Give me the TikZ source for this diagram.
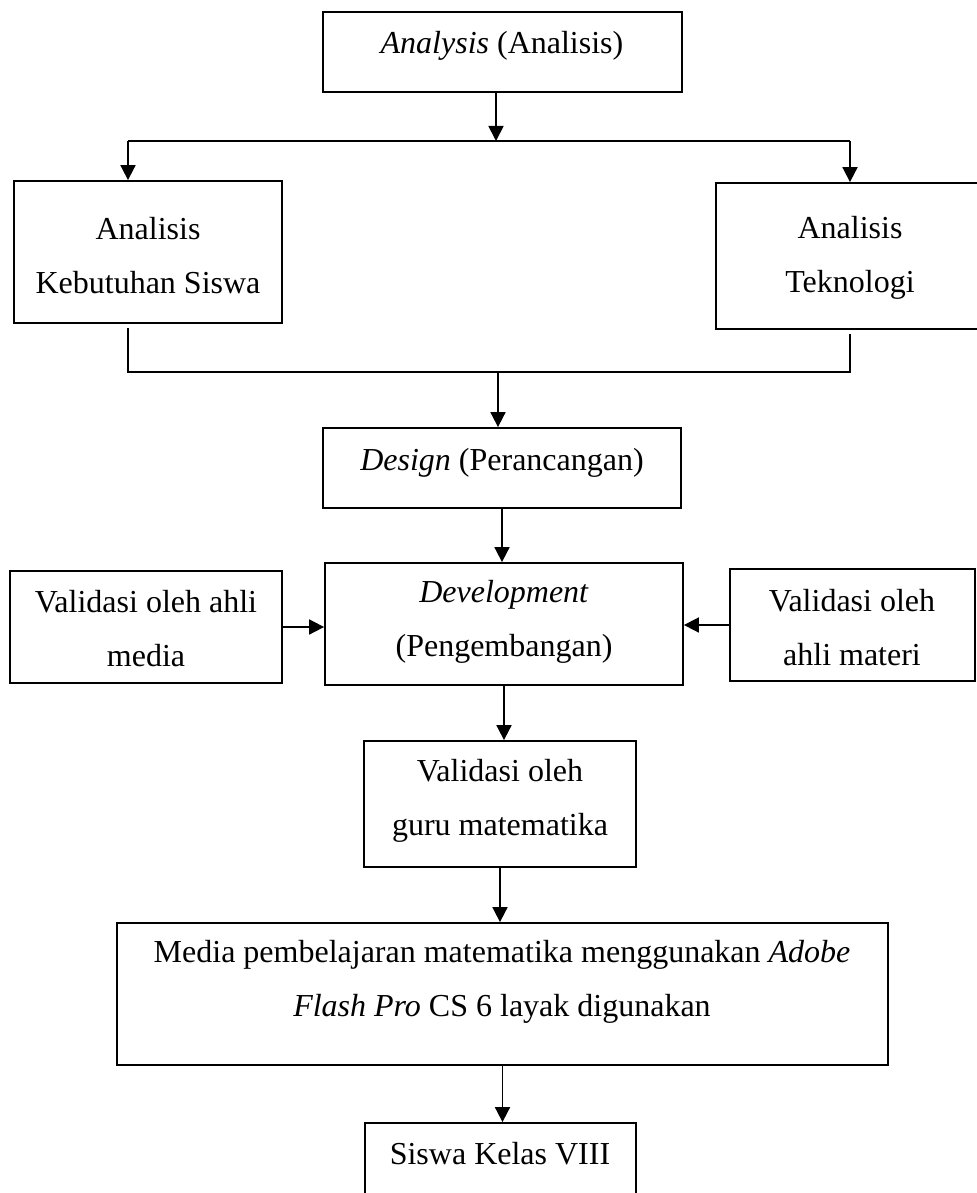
\documentclass[tikz,border=0pt]{standalone}
\usepackage{fontspec}
\setmainfont{Liberation Serif}
\usetikzlibrary{arrows.meta,fit}
\begin{document}
\begin{tikzpicture}[x=0.5pt,y=-0.5pt,
  box/.style={draw,line width=0.9pt,inner sep=0pt},
  lbl/.style={align=center,inner sep=0pt,font=\fontsize{16}{27}\selectfont},
  link/.style={line width=0.9pt},
  arr/.style={line width=0.9pt,-{Triangle[length=7.5pt,width=7.5pt]}}]

\useasboundingbox (0,0) rectangle (977,1193);
\clip (0,0) rectangle (977,1193);

% boxes
\node[box,fit={(323,12) (682,92)}]     (A) {};
\node[box,fit={(14,181) (282,323)}]    (K) {};
\node[box,fit={(716,183) (990,329)}]   (T) {};
\node[box,fit={(323,428) (681,508)}]   (D) {};
\node[box,fit={(325,563) (683,685)}]   (Dev) {};
\node[box,fit={(10,571) (282,683)}]    (VM) {};
\node[box,fit={(730,569) (975,681)}]   (VMat) {};
\node[box,fit={(364,741) (636,867)}]   (G) {};
\node[box,fit={(117,923) (888,1065)}]  (M) {};
\node[box,fit={(365,1123) (636,1240)}] (S) {};

% labels
\node[lbl] (tA)    at (502,46)  {\textit{Analysis} (Analisis)};
\node[lbl] (tK)    at (148,256) {Analisis\\Kebutuhan Siswa};
\node[lbl] (tT)    at (850,258) {Analisis\\Teknologi};
\node[lbl] (tD)    at (502,463) {\textit{Design} (Perancangan)};
\node[lbl] (tDev)  at (504,622) {\textit{Development}\\(Pengembangan)};
\node[lbl] (tVM)   at (146,629) {Validasi oleh ahli\\media};
\node[lbl] (tVMat) at (852,628) {Validasi oleh\\ahli materi};
\node[lbl] (tG)    at (500,801) {Validasi oleh\\guru matematika};
\node[lbl] (tM)    at (502,982) {Media pembelajaran matematika menggunakan \textit{Adobe}\\\textit{Flash Pro} CS 6 layak digunakan};
\node[lbl] (tS)    at (500,1154) {Siswa Kelas VIII};

% junction points
\coordinate (c1) at (496,141);
\coordinate (cL) at (128,141);
\coordinate (cR) at (850,141);
\coordinate (jL) at (128,372);
\coordinate (jR) at (850,372);
\coordinate (j)  at (498,372);

% split below Analysis
\draw[arr] (A.south -| c1) -- (c1);
\draw[link] (cL) -- (cR);
\draw[arr] (cL) -- (cL |- K.north);
\draw[arr] (cR) -- (cR |- T.north);

% merge into Design
\draw[link] ([yshift=-2pt]K.south -| jL) -- (jL) -- (jR) -- ([yshift=-2pt]T.south -| jR);
\draw[arr] (j) -- (j |- D.north);

% Design and validations into Development
\draw[arr] (D.south) -- (D.south |- Dev.north);
\draw[arr] (VM.east) -- (VM.east -| Dev.west);
\draw[arr] (VMat.west) -- (VMat.west -| Dev.east);

% lower chain
\draw[arr] (Dev.south) -- (Dev.south |- G.north);
\draw[arr] (G.south) -- (G.south |- M.north);
\draw[arr] (M.south) -- (M.south |- S.north);
\end{tikzpicture}
\end{document}
